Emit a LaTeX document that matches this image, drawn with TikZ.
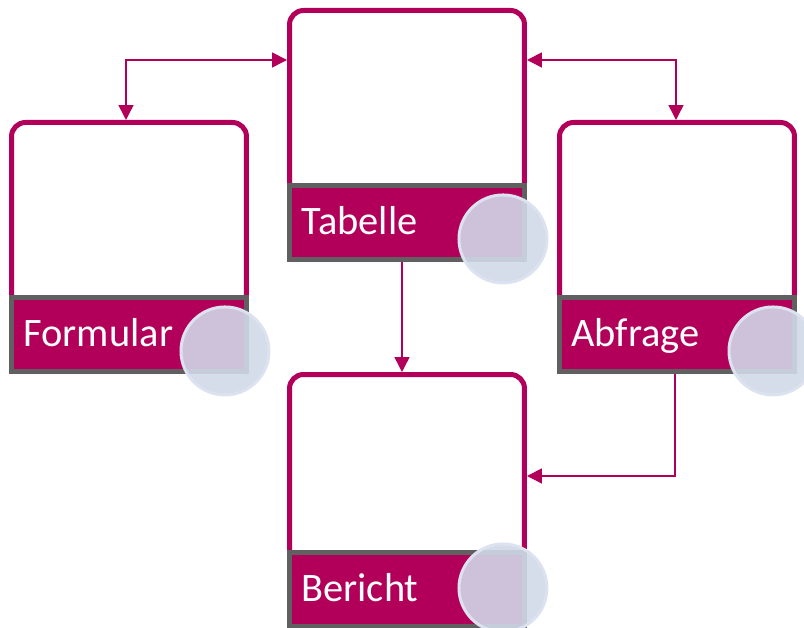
\documentclass[tikz,border=0pt]{standalone}
\usepackage{fontspec}
\setmainfont{Carlito}
\usepackage{xcolor}
\usetikzlibrary{arrows.meta,positioning}
\definecolor{accessred}{RGB}{178,0,90}
\definecolor{bargray}{RGB}{96,96,96}
\definecolor{knobblue}{RGB}{208,216,232}
\definecolor{knobedge}{RGB}{220,226,239}

\begin{document}
\begin{tikzpicture}[
    x=0.02cm, y=-0.02cm,
    card/.style={rectangle, draw=accessred, fill=white, line width=0.1cm, rounded corners=0.28cm, minimum width=4.7cm, minimum height=4.6cm, anchor=north},
    bar/.style={rectangle, draw=bargray, fill=accessred, line width=0.1cm, minimum width=4.7cm, minimum height=1.48cm, text width=4.22cm, inner xsep=0.24cm, inner ysep=0pt, text height=0.64cm, text depth=0.14cm, align=left, text=white, font=\fontsize{23}{27}\selectfont},
    knob/.style={circle, fill=knobblue, fill opacity=0.9, draw=knobedge, line width=0.06cm, minimum size=1.76cm, inner sep=0pt},
    link/.style={draw=accessred, line width=0.03cm, -{Triangle[length=0.3cm,width=0.3cm]}},
    both/.style={{Triangle[length=0.3cm,width=0.3cm]}-{Triangle[length=0.3cm,width=0.3cm]}}
]
\useasboundingbox (0,0) rectangle (804,628);

% Tabelle
\node[card] (tabelle) at (407,8) {};
\node[bar] (tabbar) at ([yshift=-4.29cm]tabelle.north) {Tabelle};
\node[knob] (tabknob) at ([xshift=-0.48cm, yshift=-0.33cm]tabbar.east) {};

% Formular
\node[card] (formular) at (129,120) {};
\node[bar] (formbar) at ([yshift=-4.29cm]formular.north) {Formular};
\node[knob] (formknob) at ([xshift=-0.48cm, yshift=-0.33cm]formbar.east) {};

% Abfrage
\node[card] (abfrage) at (677,120) {};
\node[bar] (abfbar) at ([yshift=-4.29cm]abfrage.north) {Abfrage};
\node[knob] (abfknob) at ([xshift=-0.48cm, yshift=-0.33cm]abfbar.east) {};

% Bericht
\node[card] (bericht) at (407,372) {};
\node[bar] (berbar) at ([yshift=-4.35cm]bericht.north) {Bericht};
\node[knob] (berknob) at ([xshift=-0.48cm, yshift=0.03cm]berbar.east) {};

% Arrows
\draw[link, both] ([yshift=-1.04cm]tabelle.north west) -| ([xshift=-0.06cm]formular.north);
\draw[link, both] ([yshift=-1.04cm]tabelle.north east) -| ([xshift=-0.02cm]abfrage.north);
\draw[link] ([xshift=-0.1cm]tabbar.south) -- ([xshift=-0.1cm]bericht.north);
\draw[link] ([xshift=-0.04cm]abfbar.south) |- ([yshift=-2.08cm]bericht.north east);

\end{tikzpicture}
\end{document}
